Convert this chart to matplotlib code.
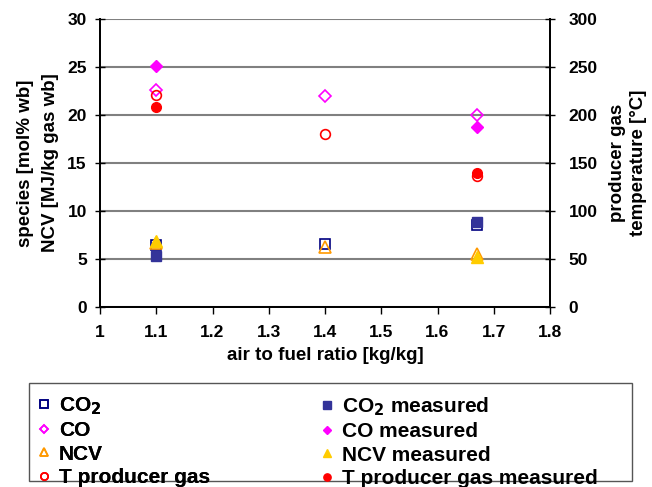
import matplotlib
matplotlib.use("Agg")
import matplotlib.pyplot as plt
from matplotlib.patches import Rectangle

plt.rcParams['font.family'] = ['Liberation Sans', 'DejaVu Sans']
plt.rcParams['font.weight'] = 'bold'

# data
x_model = [1.1, 1.4, 1.67]
co2_model = [6.5, 6.6, 8.5]
co_model = [22.6, 22.0, 20.0]
ncv_model = [6.7, 6.2, 5.5]
t_model = [221, 180, 136]

x_meas = [1.1, 1.67]
co2_meas = [5.3, 8.9]
co_meas = [25.1, 18.8]
ncv_meas = [6.9, 5.2]
t_meas = [208, 140]

xticks = [1.0, 1.1, 1.2, 1.3, 1.4, 1.5, 1.6, 1.7, 1.8]
xticklabels = ['1', '1.1', '1.2', '1.3', '1.4', '1.5', '1.6', '1.7', '1.8']

W, H = 652, 487
fig = plt.figure(figsize=(W / 100, H / 100), dpi=100)
ax = fig.add_axes([100 / W, 1 - 307 / H, 450 / W, 288 / H])
ax2 = ax.twinx()

ms = 7
hm = []
hs = []
hm.append(ax.plot(x_model, co2_model, 's', mfc='none', mec='#000080', mew=1.2, ms=ms, label='CO$_2$', zorder=3)[0])
hs.append(ax.plot(x_meas, co2_meas, 's', color='#333399', ms=ms, label='CO$_2$ measured', zorder=3)[0])
hm.append(ax.plot(x_model, co_model, 'D', mfc='none', mec='#FF00FF', mew=1.2, ms=6, label='CO', zorder=3)[0])
hs.append(ax.plot(x_meas, co_meas, 'D', color='#FF00FF', ms=6, label='CO measured', zorder=3)[0])
hm.append(ax.plot(x_model, ncv_model, '^', mfc='none', mec='#FF9900', mew=1.2, ms=8, label='NCV', zorder=3)[0])
hs.append(ax.plot(x_meas, ncv_meas, '^', color='#FFCC00', ms=8, label='NCV measured', zorder=3)[0])
hm.append(ax2.plot(x_model, t_model, 'o', mfc='none', mec='#FF0000', mew=1.2, ms=7, label='T producer gas')[0])
hs.append(ax2.plot(x_meas, t_meas, 'o', color='#FF0000', ms=7, label='T producer gas measured')[0])

ax.set_xlim(1.0, 1.8)
ax.set_ylim(0, 30)
ax2.set_ylim(0, 300)
ax.set_xticks(xticks)
ax.set_xticklabels(xticklabels)
ax.set_yticks(range(0, 31, 5))
ax2.set_yticks(range(0, 301, 50))
ax.yaxis.grid(True, color='#808080', lw=1.5)
ax.set_axisbelow(True)

ax.tick_params(axis='y', labelsize=12.5, direction='inout', length=7, width=1, pad=6)
ax2.tick_params(axis='y', labelsize=12.5, direction='inout', length=7, width=1, pad=10)
ax.tick_params(axis='x', labelsize=12.5, direction='out', length=5, width=1, pad=8)
for a in (ax, ax2):
    a.spines['top'].set_visible(False)
    for s in ('left', 'right', 'bottom'):
        a.spines[s].set_linewidth(1.3)

ax.set_xlabel('air to fuel ratio [kg/kg]', fontsize=13.5, fontweight='bold', labelpad=5)
ax.set_ylabel('species [mol% wb]\nNCV [MJ/kg gas wb]', fontsize=13.5, fontweight='bold',
              linespacing=1.6, labelpad=6)
ax2.set_ylabel('producer gas\ntemperature [°C]', fontsize=13.5, fontweight='bold',
               linespacing=1.3, labelpad=8)

# legend frame
fig.add_artist(Rectangle((29 / W, 1 - 481 / H), 603 / W, 98 / H, transform=fig.transFigure,
                         fill=False, edgecolor='#555555', lw=1.0))

common = dict(fontsize=15, frameon=False, handlelength=0.8, handletextpad=0.3,
              labelspacing=0.22, borderaxespad=0.0, borderpad=0.0, markerscale=0.75,
              prop={'weight': 'bold', 'size': 15})
leg1 = fig.legend(hm, [h.get_label() for h in hm], loc='upper left',
                  bbox_to_anchor=(36 / W, 1 - 395 / H), **common)
fig.add_artist(leg1)
leg2 = fig.legend(hs, [h.get_label() for h in hs], loc='upper left',
                  bbox_to_anchor=(319 / W, 1 - 395 / H), **common)

fig.savefig('out.png', dpi=100)
